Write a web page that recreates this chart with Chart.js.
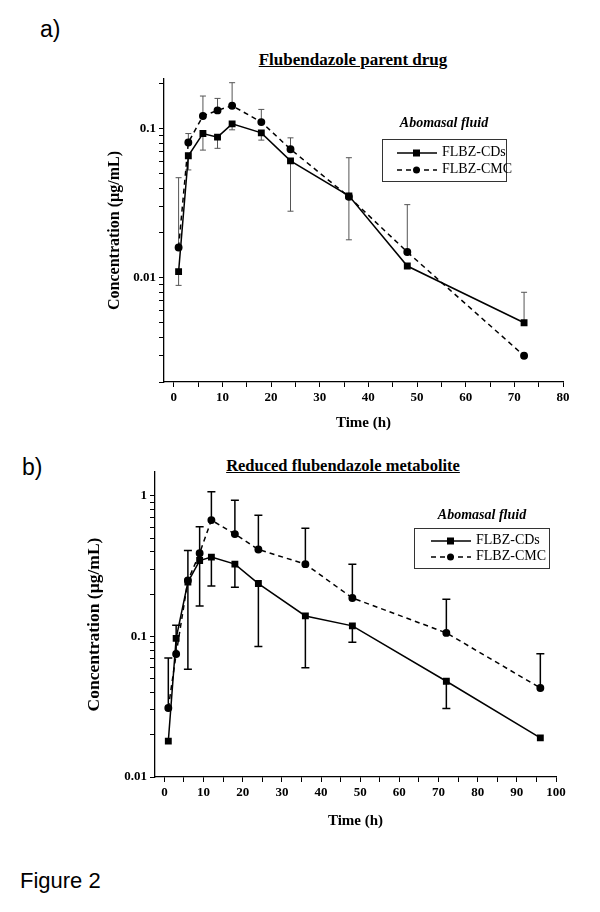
<!DOCTYPE html>
<html>
<head>
<meta charset="utf-8">
<script src="https://cdn.jsdelivr.net/npm/chart.js@4.4.0/dist/chart.umd.min.js"></script>
<style>
body{margin:0;background:#fff;width:600px;height:912px;position:relative;overflow:hidden;font-family:"Liberation Serif",serif;color:#000;}
.abs{position:absolute;white-space:nowrap;}
.panel{position:absolute;left:0;width:600px;}
.ttl{font-weight:bold;font-size:17px;text-decoration:underline;transform:translateX(-50%);}
.lab{font-family:"Liberation Sans",sans-serif;font-size:23px;}
.ltitle{font-weight:bold;font-style:italic;font-size:14px;transform:translateX(-50%);}
.lbox{border:1px solid #333;}
.lrow{position:absolute;left:0;font-size:14px;line-height:16px;}
.lrow svg{vertical-align:middle;margin-right:3px;}
</style>
</head>
<body>
<div class="abs lab" style="left:40px;top:16px">a)</div>
<div class="abs ttl" style="left:353px;top:50px">Flubendazole parent drug</div>
<div class="panel" style="top:0;height:440px"><canvas id="chartA"></canvas></div>
<div class="abs ltitle" style="left:444px;top:115px">Abomasal fluid</div>
<div class="abs lbox" style="left:382px;top:139px;width:123px;height:41px">
  <div class="lrow" style="top:4px;left:12px"><svg width="44" height="10"><line x1="2" y1="5" x2="42" y2="5" stroke="#000" stroke-width="1.5"/><rect x="18" y="1.5" width="7" height="7" fill="#000"/></svg>FLBZ-CDs</div>
  <div class="lrow" style="top:21px;left:12px"><svg width="44" height="10"><line x1="2" y1="5" x2="42" y2="5" stroke="#000" stroke-width="1.5" stroke-dasharray="5,4"/><circle cx="21.5" cy="5" r="3.5" fill="#000"/></svg>FLBZ-CMC</div>
</div>

<div class="abs lab" style="left:22px;top:454px">b)</div>
<div class="abs ttl" style="left:343px;top:456px;font-size:16.5px">Reduced flubendazole metabolite</div>
<div class="panel" style="top:440px;height:400px"><canvas id="chartB"></canvas></div>
<div class="abs ltitle" style="left:482px;top:507px">Abomasal fluid</div>
<div class="abs lbox" style="left:414px;top:528px;width:134px;height:39px;overflow:hidden">
  <div class="lrow" style="top:3px;left:14px"><svg width="44" height="10"><line x1="2" y1="5" x2="42" y2="5" stroke="#000" stroke-width="1.5"/><rect x="18" y="1.5" width="7" height="7" fill="#000"/></svg>FLBZ-CDs</div>
  <div class="lrow" style="top:19px;left:14px"><svg width="44" height="10"><line x1="2" y1="5" x2="42" y2="5" stroke="#000" stroke-width="1.5" stroke-dasharray="5,4"/><circle cx="21.5" cy="5" r="3.5" fill="#000"/></svg>FLBZ-CMC</div>
</div>

<div class="abs lab" style="left:20px;top:868px;font-size:22px">Figure 2</div>

<script>
// a) parent drug
const timesA = [1, 3, 6, 9, 12, 18, 24, 36, 48, 72];
const cdsA = [0.011, 0.066, 0.093, 0.088, 0.108, 0.094, 0.061, 0.0355, 0.012, 0.005];
const cmcA = [0.016, 0.081, 0.122, 0.133, 0.143, 0.111, 0.073, 0.035, 0.0149, 0.003];
const cdsLowA = [0.0089, 0.053, 0.072, 0.074, 0.0985, 0.084, 0.028, 0.018, null, null];
const cdsHighA = [null, null, null, null, null, null, null, null, null, 0.008];
const cmcHighA = [0.047, 0.093, 0.166, 0.160, 0.204, 0.135, 0.087, 0.064, 0.031, null];

// b) reduced metabolite
const timesB = [1, 3, 6, 9, 12, 18, 24, 36, 48, 72, 96];
const cdsB = [0.018, 0.097, 0.244, 0.347, 0.367, 0.327, 0.238, 0.140, 0.119, 0.048, 0.019];
const cmcB = [0.031, 0.075, 0.25, 0.391, 0.673, 0.535, 0.416, 0.327, 0.188, 0.106, 0.043];
const cdsLowB = [null, null, 0.0585, 0.165, 0.229, 0.224, 0.085, 0.0598, 0.091, 0.0307, null];
const cmcHighB = [0.0704, 0.12, 0.409, 0.604, 1.07, 0.93, 0.728, 0.588, 0.327, 0.184, 0.0752];

// ticks
const xTicksA = [0, 5, 10, 15, 20, 25, 30, 35, 40, 45, 50, 55, 60, 65, 70, 75, 80];
const xTicksB = [0, 5, 10, 15, 20, 25, 30, 35, 40, 45, 50, 55, 60, 65, 70, 75, 80, 85, 90, 95, 100];
const yTicksA = [0.002, 0.003, 0.004, 0.005, 0.006, 0.007, 0.008, 0.009, 0.01,
  0.02, 0.03, 0.04, 0.05, 0.06, 0.07, 0.08, 0.09, 0.1, 0.2];
const yTicksB = [0.01, 0.02, 0.03, 0.04, 0.05, 0.06, 0.07, 0.08, 0.09, 0.1,
  0.2, 0.3, 0.4, 0.5, 0.6, 0.7, 0.8, 0.9, 1];
const yLabels = [0.01, 0.1, 1];

/** error bars drawn from each point to the given end value **/
const errorBars = {
  id: 'errorBars',
  beforeDatasetsDraw(chart, args, opts){
    const ctx = chart.ctx, y = chart.scales.y;
    ctx.save();
    ctx.strokeStyle = opts.color;
    ctx.lineWidth = opts.width;
    chart.data.datasets.forEach(function(ds, i){
      const meta = chart.getDatasetMeta(i);
      meta.data.forEach(function(pt, j){
        [ds.errHigh, ds.errLow].forEach(function(arr){
          if( !arr || arr[j] == null ) return;
          const ye = y.getPixelForValue(arr[j]);
          ctx.beginPath();
          ctx.moveTo(pt.x, pt.y);
          ctx.lineTo(pt.x, ye);
          ctx.moveTo(pt.x - opts.cap, ye);
          ctx.lineTo(pt.x + opts.cap, ye);
          ctx.stroke();
        });
      });
    });
    ctx.restore();
  }
};

function pts(times, vals){
  return times.map(function(t, i){ return {x: t, y: vals[i]}; });
}

function makeChart(id, c){
  const tickFont = {family: 'Liberation Serif', weight: 'bold', size: 13};
  return new Chart(document.getElementById(id), {
    type: 'line',
    data: {
      datasets: [{
        label: 'FLBZ-CDs',
        data: pts(c.times, c.cds),
        errLow: c.cdsLow, errHigh: c.cdsHigh,
        borderColor: '#000', backgroundColor: '#000',
        borderWidth: 1.5, pointStyle: 'rect', pointRadius: 3.8,
        tension: 0
      },{
        label: 'FLBZ-CMC',
        data: pts(c.times, c.cmc),
        errHigh: c.cmcHigh,
        borderColor: '#000', backgroundColor: '#000',
        borderWidth: 1.5, borderDash: [5, 4], pointStyle: 'circle', pointRadius: 3.2,
        tension: 0
      }]
    },
    options: {
      responsive: true,
      maintainAspectRatio: false,
      animation: false,
      layout: {padding: c.padding},
      plugins: {
        legend: {display: false},
        tooltip: {enabled: false},
        errorBars: c.err
      },
      scales: {
        x: {
          type: 'linear', min: c.xMin, max: c.xMax,
          afterBuildTicks: function(s){ s.ticks = c.xTicks.map(function(v){ return {value: v}; }); },
          afterFit: function(s){ s.height = c.xH; },
          ticks: {
            autoSkip: false, maxRotation: 0, color: '#000', font: tickFont, padding: 3,
            callback: function(v){ return v % 10 === 0 ? String(v) : ''; }
          },
          grid: {drawOnChartArea: false, drawTicks: true, tickLength: 5, color: '#000', lineWidth: 1},
          border: {display: true, color: '#000', width: 1.3},
          title: {display: true, text: 'Time (h)', color: '#000',
            font: {family: 'Liberation Serif', weight: 'bold', size: 15}}
        },
        y: {
          type: 'logarithmic', min: c.yMin, max: c.yMax,
          afterBuildTicks: function(s){ s.ticks = c.yTicks.map(function(v){ return {value: v}; }); },
          afterFit: function(s){ s.width = c.yW; },
          ticks: {
            autoSkip: false, color: '#000', font: tickFont, padding: 3,
            callback: function(v){ return yLabels.includes(v) ? String(v) : ''; }
          },
          grid: {drawOnChartArea: false, drawTicks: true, tickLength: 5, color: '#000', lineWidth: 1},
          border: {display: true, color: '#000', width: 1.3},
          title: {display: true, text: 'Concentration (µg/mL)', color: '#000',
            font: {family: 'Liberation Serif', weight: 'bold', size: c.yTitleSize}}
        }
      }
    },
    plugins: [errorBars]
  });
}

makeChart('chartA', {
  times: timesA, cds: cdsA, cmc: cmcA,
  cdsLow: cdsLowA, cdsHigh: cdsHighA, cmcHigh: cmcHighA,
  xMin: -2, xMax: 80, yMin: 0.002, yMax: 0.216,
  xTicks: xTicksA, yTicks: yTicksA,
  padding: {left: 101, right: 37, top: 79, bottom: 4},
  xH: 54, yW: 63, yTitleSize: 16,
  err: {color: '#555', width: 1, cap: 3}
});

makeChart('chartB', {
  times: timesB, cds: cdsB, cmc: cmcB,
  cdsLow: cdsLowB, cdsHigh: null, cmcHigh: cmcHighB,
  xMin: -2.4, xMax: 100, yMin: 0.01, yMax: 1.48,
  xTicks: xTicksB, yTicks: yTicksB,
  padding: {left: 80, right: 44, top: 32, bottom: 6},
  xH: 57, yW: 75, yTitleSize: 17.5,
  err: {color: '#000', width: 1.5, cap: 4}
});
</script>
</body>
</html>
